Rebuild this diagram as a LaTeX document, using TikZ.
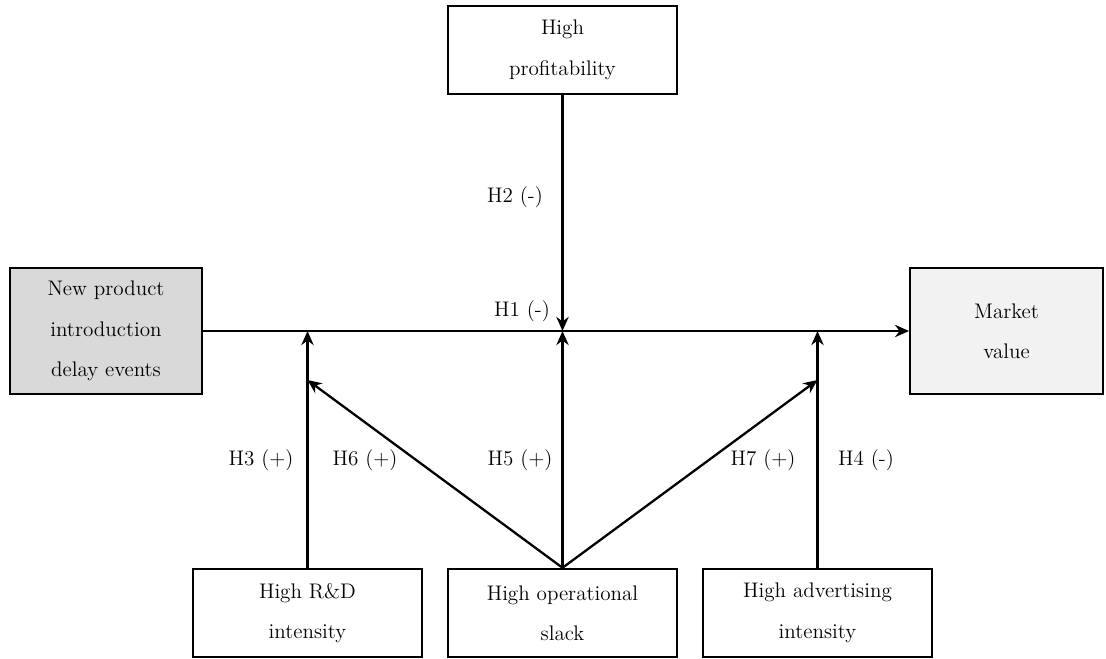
\documentclass[tikz,border=0pt]{standalone}
\usepackage{tikz}
\usetikzlibrary{arrows.meta}
\tikzstyle{factor} = [rectangle, minimum width=4.58cm, minimum height=1.76cm, text centered, align=center, draw=black, fill=white, line width=1.4pt, font=\fontsize{12}{23}\selectfont]
\tikzstyle{outcome} = [rectangle, minimum width=3.85cm, minimum height=2.52cm, text centered, align=center, draw=black, line width=1.4pt, font=\fontsize{12}{23}\selectfont]
\tikzstyle{hyp} = [font=\fontsize{12}{14}\selectfont]
\tikzstyle{arrow} = [line width=1.3pt,->,>={Stealth[length=8pt,width=7pt]}]

\begin{document}
\begin{tikzpicture}
            \useasboundingbox (0,0) rectangle (22.12,-13.16);
            \node (oper) [factor] at (11.25,-12.26) {High operational\\slack};
            \node (rnd) [factor, left of=oper, node distance=5.1cm] {High R\&D\\intensity};
            \node (advert) [factor, right of=oper, node distance=5.1cm] {High advertising\\intensity};
            \node (profit) [factor, above of=oper, node distance=11.26cm] {High\\profitability};
            \node (delay) [outcome, fill=gray!30] at (2.12,-6.62) {New product\\introduction\\delay events};
            \node (market) [outcome, fill=black!5, right of=delay, node distance=18.01cm] {Market\\value};

            \coordinate (jrnd) at (rnd |- delay);
            \coordinate (joper) at (oper |- delay);
            \coordinate (jadvert) at (advert |- delay);
            \coordinate (drnd) at ([yshift=-0.98cm]jrnd);
            \coordinate (dadvert) at ([yshift=-0.98cm]jadvert);

            \draw [arrow] (delay) -- (market);
            \draw [arrow] (profit) -- (joper);
            \draw [arrow] (oper) -- (joper);
            \draw [arrow] (rnd) -- (jrnd);
            \draw [arrow] (advert) -- (jadvert);
            \draw [arrow] (oper.north) -- (drnd);
            \draw [arrow] (oper.north) -- (dadvert);

            \node (h1) [hyp] at (10.44,-6.22) {H1 (-)};
            \node (h2) [hyp] at (10.30,-3.94) {H2 (-)};
            \node (h3) [hyp] at (5.22,-9.2) {H3 (+)};
            \node (h4) [hyp] at (17.32,-9.2) {H4 (-)};
            \node (h5) [hyp] at (10.40,-9.2) {H5 (+)};
            \node (h6) [hyp] at (7.30,-9.2) {H6 (+)};
            \node (h7) [hyp] at (15.26,-9.2) {H7 (+)};
        \end{tikzpicture}
\end{document}
